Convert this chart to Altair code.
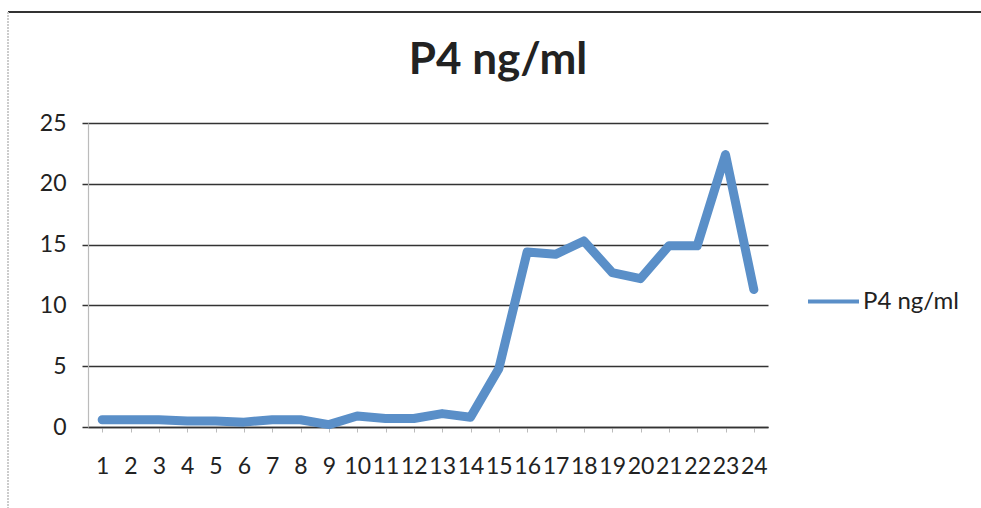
import altair as alt
import pandas as pd

days = [str(i) for i in range(1, 25)]
p4 = [0.6, 0.6, 0.6, 0.5, 0.5, 0.4, 0.6, 0.6, 0.2, 0.9, 0.7, 0.7,
      1.1, 0.8, 4.8, 14.4, 14.2, 15.3, 12.7, 12.2, 14.9, 14.9, 22.4, 11.3]
series = "P4 ng/ml"

df = pd.DataFrame({"day": days, "value": p4, "series": [series] * len(days)})

FONT = "Lato"
BLUE = "#5a8fc8"

line = alt.Chart(df).mark_line(strokeWidth=9, strokeJoin="round", strokeCap="round").encode(
    x=alt.X("day:O", sort=days,
            scale=alt.Scale(type="point", padding=0.5),
            axis=alt.Axis(title=None, labelAngle=0, labelFontSize=23, labelFont=FONT,
                          labelColor="#222", labelPadding=23, labelOverlap=False,
                          tickSize=5, tickColor="#bbbbbb", domainColor="#333333",
                          domainWidth=1.5, grid=False)),
    y=alt.Y("value:Q", scale=alt.Scale(domain=[0, 25], nice=False),
            axis=alt.Axis(title=None, values=[0, 5, 10, 15, 20, 25], labelFontSize=23,
                          labelFont=FONT, labelColor="#222", labelPadding=16,
                          tickSize=6, tickColor="#333333", tickWidth=1.5,
                          domainColor="#bbbbbb", domainWidth=1.2,
                          gridColor="#333333", gridWidth=1.5)),
    color=alt.Color("series:N", scale=alt.Scale(domain=[series], range=[BLUE]),
                    legend=alt.Legend(title=None, orient="none", legendX=718, legendY=151,
                                      symbolType="stroke", symbolSize=2600, symbolStrokeWidth=4,
                                      labelFontSize=24, labelFont=FONT, labelColor="#222",
                                      labelOffset=2)),
)

top_rule = alt.Chart(df).mark_rule(color="#333333", strokeWidth=1.5).encode(
    x=alt.value(-80), x2=alt.value(893), y=alt.value(-111)
)
left_rule = alt.Chart(df).mark_rule(color="#cccccc", strokeWidth=1.5, strokeDash=[2, 1]).encode(
    x=alt.value(-80), y=alt.value(-111), y2=alt.value(385)
)

chart = alt.layer(top_rule, left_rule, line).properties(
    width=680, height=304,
    title=alt.Title(series, fontSize=44, font=FONT, fontWeight="bold", color="#222",
                    anchor="middle", dx=70, offset=-72),
    autosize=alt.AutoSizeParams(type="none"),
    padding={"left": 88, "top": 123, "right": 213, "bottom": 81},
    background="white",
).configure_view(stroke=None)

chart.save("out.html", embed_options={"renderer": "svg", "actions": False})
